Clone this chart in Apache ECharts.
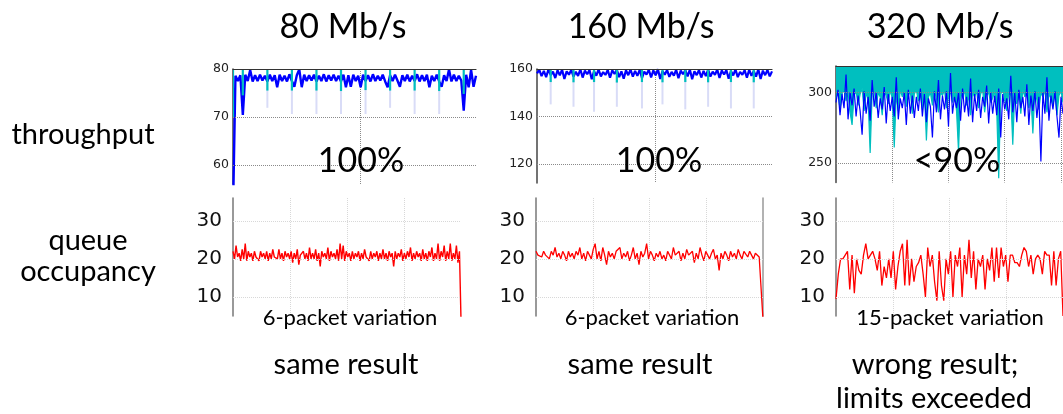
<!DOCTYPE html>
<html>
<head>
<meta charset="utf-8">
<script src="https://cdn.jsdelivr.net/npm/echarts@6/dist/echarts.min.js"></script>
<style>
  html, body { margin: 0; padding: 0; background: #fff; }
  #chart { width: 1063px; height: 414px; }
</style>
</head>
<body>
<div id="chart"></div>
<script>
// ---- labels ----
const rateTitles = ['80 Mb/s', '160 Mb/s', '320 Mb/s'];
const rowLabels = ['throughput', 'queue', 'occupancy'];
const utilization = ['100%', '100%', '<90%'];
const variation = ['6-packet variation', '6-packet variation', '15-packet variation'];
const verdicts = ['same result', 'same result', 'wrong result;', 'limits exceeded'];

// ---- tick labels ----
const thrTicks80 = [60, 70, 80];
const thrTicks160 = [120, 140, 160];
const thrTicks320 = [250, 300];
const queueTicks = [10, 20, 30];

// ---- throughput at 80 Mb/s (one sample per step) ----
const blue80 = [
  50, 78.6, 77.5, 78.7, 70.4, 78.8, 77.5, 79.8, 77.4, 78.7,
  77.5, 78.8, 77.6, 78.6, 77.4, 78.8, 77.5, 78.7, 76.2, 78.8,
  77.5, 78.6, 77.4, 78.9, 77.5, 76.3, 78.7, 79.9, 76.2, 78.8,
  77.5, 78.7, 77.6, 78.8, 77.4, 78.6, 77.5, 78.9, 77.4, 78.7,
  77.6, 78.8, 77.5, 78.6, 77.4, 78.8, 76.2, 78.7, 76.3, 78.8,
  77.5, 78.6, 76.2, 78.8, 77.5, 78.7, 77.4, 78.9, 77.5, 78.6,
  77.6, 78.8, 77.4, 76.2, 78.7, 77.5, 78.8, 77.6, 76.3, 78.7,
  77.5, 78.8, 77.4, 78.6, 77.5, 78.9, 77.4, 78.7, 77.5, 78.8,
  76.2, 78.6, 77.5, 78.8, 77.4, 76.3, 78.7, 77.5, 79.9, 77.4,
  78.8, 77.5, 78.6, 77.6, 71.3, 78.8, 76.2, 79.8, 76.3, 78.6
];
// [sample, lowest value] of the dips that hang from the top of the plot
const cyanDips80 = [
  [0, 70], [4, 74.5], [14, 75.5], [24, 75.5], [34, 75.5], [44, 75.4],
  [54, 75.6], [64, 75.5], [74, 75.5], [84, 75.4], [94, 74.8]
];
// [sample, lowest value] of the faint dips below the band
const lightDips80 = [
  [14, 71.9], [24, 70.6], [34, 70.6], [44, 70.6], [54, 70.6], [64, 71.9], [74, 70.6], [84, 70.6]
];
const band80 = 78;

// ---- throughput at 160 Mb/s ----
const blue160 = [
  158.2, 159.6, 157.0, 159.2, 156.6, 159.8, 157.4, 158.9, 156.2, 159.5,
  157.3, 159.7, 155.8, 159.0, 157.6, 159.6, 156.8, 158.8, 157.1, 159.9,
  156.4, 159.3, 157.8, 159.6, 155.7, 159.1, 157.2, 159.8, 156.9, 158.7,
  157.5, 159.6, 156.3, 159.4, 157.9, 159.7, 156.6, 159.0, 155.9, 159.5,
  157.4, 159.8, 156.8, 159.2, 157.1, 159.6, 156.2, 158.9, 157.7, 159.7,
  156.5, 159.4, 157.3, 159.9, 155.8, 159.1, 157.6, 159.6, 156.7, 158.8,
  157.2, 159.7, 156.1, 159.3, 157.8, 159.5, 156.9, 159.8, 155.7, 159.0,
  157.4, 159.6, 156.4, 159.2, 157.0, 159.7, 156.8, 158.9, 157.5, 159.8,
  156.2, 159.4, 157.7, 159.6, 155.9, 159.1, 157.3, 159.8, 156.6, 158.8,
  157.6, 159.5, 156.3, 159.7, 157.1, 159.2, 156.8, 159.9, 155.8, 159.3,
  157.4, 159.6, 156.9, 159.0
];
const cyanDips160 = [
  [6, 154.5], [16, 154.4], [25, 154.5], [35, 154.3], [46, 154.5],
  [55, 154.4], [65, 154.5], [75, 154.4], [85, 154.5], [95, 154.4]
];
const lightDips160 = [
  [6, 145.1], [16, 144.1], [25, 142.0], [35, 144.1], [46, 143.4],
  [55, 145.1], [65, 143.0], [75, 144.1], [85, 143.4], [95, 143.4]
];
const band160 = 158;

// ---- throughput at 320 Mb/s ----
// lower edge of the teal band (filled up to the top of the plot)
const cyan320 = [
  296, 301, 288, 299, 302, 294, 300, 286, 277, 298,
  301, 291, 299, 303, 287, 300, 295, 257, 299, 302,
  289, 300, 297, 284, 301, 298, 292, 302, 296, 261,
  299, 287, 302, 297, 300, 290, 298, 301, 285, 299,
  302, 294, 299, 288, 301, 266, 297, 300, 291, 302,
  296, 286, 300, 298, 302, 289, 297, 301, 293, 299,
  287, 258, 300, 296, 302, 291, 298, 284, 300, 297,
  301, 289, 299, 302, 286, 298, 300, 293, 296, 301,
  288, 239, 299, 302, 295, 287, 300, 298, 263, 301,
  292, 299, 285, 302, 297, 300, 289, 298, 271, 301,
  295, 288, 300, 297, 302, 286, 299, 296, 291, 300,
  284, 298, 301, 293
];
const blue320 = [
  293, 302, 284, 299, 289, 313, 281, 300, 291, 303,
  283, 298, 287, 270, 301, 285, 297, 280, 309, 290,
  300, 282, 296, 288, 304, 278, 299, 287, 297, 283,
  311, 281, 296, 289, 300, 277, 302, 285, 298, 282,
  297, 287, 303, 283, 299, 279, 296, 290, 268, 301,
  286, 309, 281, 298, 288, 301, 276, 314, 285, 297,
  289, 300, 280, 303, 286, 297, 283, 310, 279, 299,
  287, 302, 282, 297, 290, 305, 278, 300, 285, 298,
  284, 303, 268, 299, 288, 296, 281, 312, 286, 300,
  279, 302, 289, 297, 283, 306, 277, 298, 287, 301,
  282, 297, 251, 300, 285, 311, 280, 298, 288, 301,
  283, 268, 297, 285
];

// ---- queue occupancy (packets) ----
const queue80 = [
  22, 20, 23.5, 20.5, 21.5, 19.5, 22.5, 20, 24, 19.5, 22, 20.5, 21.5, 19.5, 22, 20.5, 21, 19.5, 22, 20.5,
  21.5, 20, 22, 19.5, 21.5, 20, 22.5, 20.5, 21, 20, 22.5, 20, 21.5, 19.5, 22, 20.5, 21.5, 20, 22, 19,
  21.5, 20, 22.5, 18.5, 21, 20.5, 22, 20, 21.5, 19.5, 23, 20, 21.5, 20, 22.5, 19.5, 21.5, 18, 22, 20.5,
  21.5, 20, 23, 19.5, 22, 20.5, 21.5, 20, 22.5, 19.5, 24, 20, 23.5, 19.5, 22, 20.5, 21.5, 19.5, 22, 20,
  21.5, 20.5, 22, 19.5, 21.5, 20, 22.5, 20.5, 21, 19.5, 22, 20, 21.5, 20.5, 22, 19.5, 21.5, 20, 22.5, 20,
  21.5, 19.5, 22, 20.5, 21.5, 18, 22, 20, 21.5, 20.5, 22.5, 19.5, 21.5, 20, 22, 20.5, 23, 19.5, 21.5, 20,
  22, 20.5, 21.5, 19.5, 22.5, 20, 21.5, 19.5, 22, 20.5, 23, 19.5, 21.5, 20, 24, 19.5, 22, 20.5, 23.5, 19.5,
  22, 20, 24, 19.5, 21.5, 20, 23.5, 19, 22, 4
];
const queue160 = [
  22, 21, 21.5, 20.5, 22, 21, 21.5, 20, 22, 21, 23, 20.5, 21.5, 20, 22, 21, 19.5, 22, 20.5, 21.5,
  20, 22, 21, 23, 20, 21.5, 19.5, 22, 21, 20, 22.5, 24, 20, 22, 19.5, 23, 21, 18.5, 22, 20.5,
  21.5, 20, 22, 21.5, 23, 20, 21.5, 20.5, 22, 19.5, 21, 23, 20, 21.5, 18.5, 22, 20.5, 21.5, 24, 20,
  22, 21, 19.5, 21.5, 20.5, 22, 20, 21, 19.5, 22, 21.5, 20, 23, 21, 20.5, 22, 19.5, 21.5, 20, 22.5,
  21, 20.5, 22, 19, 21.5, 20, 23, 21, 19.5, 22, 21, 20, 21.5, 22.5, 20, 21, 17, 21.5, 20, 22,
  21, 19.5, 22, 20.5, 21.5, 20, 22.5, 21, 20, 22, 21.5, 20.5, 22, 21, 20, 21.5, 22, 20.5, 21, 4
];
const queue320 = [
  9.5, 16, 20, 20, 21, 22, 12, 21, 11, 20,
  17, 16, 21, 24, 20, 21, 22, 20, 17, 22,
  13, 18, 15, 20, 15, 22, 12, 18, 22, 24,
  13, 25, 13, 20, 14, 18, 19, 21, 16, 10,
  23, 18, 21, 14, 9, 22, 13, 9, 20, 16,
  22, 10, 21, 18, 23, 10, 21, 16, 25, 15,
  22, 12, 20, 18, 21, 12, 20, 17, 23, 14,
  23, 15, 23, 18, 21, 14, 21, 21, 19, 19,
  18, 21, 23, 22, 18, 21, 16, 20, 21, 20,
  16, 22, 21, 21, 13, 22, 13, 20, 22, 5
];

// ---- styling ----
const BLUE = '#0000ff', CYAN = '#00bfbf', LIGHT = '#d9dcf7', RED = '#ff0000';
const TEXT_FONT = 'Lato, "Open Sans", sans-serif';
const TICK_FONT = '"DejaVu Sans", sans-serif';

const grids = [], xAxes = [], yAxes = [], series = [];
const pairs = arr => arr.map((v, i) => [i, v]);

// thin vertical strokes between a value and a reference level
function spikeSeries(xi, yi, dips, level, color, width, z) {
  return {
    type: 'custom', xAxisIndex: xi, yAxisIndex: yi, z: z, silent: true, clip: true,
    data: dips.map(d => [d[0], d[1], level]),
    renderItem: (params, api) => {
      const a = api.coord([api.value(0), api.value(1)]);
      const b = api.coord([api.value(0), api.value(2)]);
      return {
        type: 'rect',
        shape: { x: a[0] - width / 2, y: Math.min(a[1], b[1]), width: width, height: Math.abs(b[1] - a[1]) },
        style: { fill: color }
      };
    }
  };
}

function addPanel(p) {
  const gi = grids.length;
  grids.push({ left: p.left, top: p.top, width: p.width, height: p.height });
  const xi = xAxes.length;
  xAxes.push({
    type: 'value', gridIndex: gi, min: 0, max: p.n - 1, interval: p.xStep,
    axisLine: { show: false }, axisTick: { show: false }, axisLabel: { show: false },
    splitLine: { show: true, showMinLine: false, showMaxLine: false, lineStyle: p.vGrid }
  });
  if (p.topBorder) {
    xAxes.push({
      type: 'value', gridIndex: gi, position: 'top', min: 0, max: p.n - 1, z: 10,
      axisLine: { show: true, onZero: false, lineStyle: { color: '#333', width: 1.2 } },
      axisTick: { show: false }, axisLabel: { show: false }, splitLine: { show: false }
    });
  }
  const yi = yAxes.length;
  yAxes.push({
    type: 'value', gridIndex: gi, min: p.yMin, max: p.yMax, interval: p.yStep,
    axisLine: { show: true, onZero: false, lineStyle: { color: p.axisColor, width: 1.5 } },
    axisTick: { show: false },
    axisLabel: {
      margin: p.labelMargin, color: p.labelColor, fontFamily: TICK_FONT, fontSize: p.labelSize,
      formatter: v => (p.ticks.indexOf(v) >= 0 ? String(v) : '')
    },
    splitLine: { show: false }
  });
  if (p.rightBorder) {
    yAxes.push({
      type: 'value', gridIndex: gi, position: 'right', min: p.yMin, max: p.yMax,
      axisLine: { show: true, onZero: false, lineStyle: { color: '#999', width: 1.5 } },
      axisTick: { show: false }, axisLabel: { show: false }, splitLine: { show: false }
    });
  }
  // horizontal grid lines at the labelled ticks
  series.push({
    type: 'line', xAxisIndex: xi, yAxisIndex: yi, data: [], z: 1, silent: true,
    markLine: {
      silent: true, symbol: 'none', animation: false, label: { show: false },
      lineStyle: p.hGrid,
      data: p.ticks.filter(t => t > p.yMin && t < p.yMax).map(t => ({ yAxis: t }))
    }
  });
  if (p.lightDips) series.push(spikeSeries(xi, yi, p.lightDips, p.band, LIGHT, 2, 2));
  p.lines.forEach((ln, k) => {
    series.push({
      type: 'line', xAxisIndex: xi, yAxisIndex: yi, data: pairs(ln.data),
      showSymbol: false, symbol: 'none', clip: true, z: 3 + k, silent: true,
      lineStyle: { color: ln.color, width: ln.width },
      areaStyle: ln.fillTop ? { color: ln.color, opacity: 1, origin: 'end' } : undefined
    });
  });
  if (p.cyanDips) series.push(spikeSeries(xi, yi, p.cyanDips, p.yMax, CYAN, 2.2, 8));
}

const thrGridStyle = { type: 'dotted', color: '#8a8a8a', width: 1 };
const queueGridStyle = { type: 'dotted', color: '#d8d8d8', width: 1 };

// throughput row
addPanel({
  left: 233, top: 69, width: 243, height: 115, n: blue80.length, xStep: 52,
  yMin: 56, yMax: 80, yStep: 2, ticks: thrTicks80, topBorder: true,
  axisColor: '#444', labelColor: '#222', labelSize: 12.5, labelMargin: 4,
  vGrid: thrGridStyle, hGrid: thrGridStyle,
  lightDips: lightDips80, band: band80, cyanDips: cyanDips80,
  lines: [{ data: blue80, color: BLUE, width: 2.4 }]
});
addPanel({
  left: 537, top: 69, width: 235, height: 114, n: blue160.length, xStep: 52,
  yMin: 112, yMax: 160, yStep: 4, ticks: thrTicks160, topBorder: true,
  axisColor: '#444', labelColor: '#222', labelSize: 12.5, labelMargin: 4,
  vGrid: thrGridStyle, hGrid: thrGridStyle,
  lightDips: lightDips160, band: band160, cyanDips: cyanDips160,
  lines: [{ data: blue160, color: BLUE, width: 2.2 }]
});
addPanel({
  left: 836, top: 66, width: 227, height: 116.5, n: blue320.length, xStep: 28,
  yMin: 236, yMax: 319, yStep: 1, ticks: thrTicks320, topBorder: true,
  axisColor: '#444', labelColor: '#222', labelSize: 12.5, labelMargin: 4,
  vGrid: thrGridStyle, hGrid: thrGridStyle,
  lines: [
    { data: cyan320, color: CYAN, width: 1.2, fillTop: true },
    { data: blue320, color: BLUE, width: 1.2 }
  ]
});

// queue occupancy row
addPanel({
  left: 233, top: 198, width: 228, height: 118, n: queue80.length, xStep: (queue80.length - 1) / 4,
  yMin: 5, yMax: 36, yStep: 1, ticks: queueTicks,
  axisColor: '#777', labelColor: '#111', labelSize: 20, labelMargin: 11,
  vGrid: queueGridStyle, hGrid: queueGridStyle,
  lines: [{ data: queue80, color: RED, width: 1.4 }]
});
addPanel({
  left: 536, top: 198, width: 227, height: 118, n: queue160.length, xStep: (queue160.length - 1) / 4,
  yMin: 5, yMax: 36, yStep: 1, ticks: queueTicks, rightBorder: true,
  axisColor: '#777', labelColor: '#111', labelSize: 20, labelMargin: 11,
  vGrid: queueGridStyle, hGrid: queueGridStyle,
  lines: [{ data: queue160, color: RED, width: 1.3 }]
});
addPanel({
  left: 836, top: 198, width: 227, height: 118, n: queue320.length, xStep: (queue320.length - 1) / 4,
  yMin: 5, yMax: 36, yStep: 1, ticks: queueTicks,
  axisColor: '#777', labelColor: '#111', labelSize: 20, labelMargin: 11,
  vGrid: queueGridStyle, hGrid: queueGridStyle,
  lines: [{ data: queue320, color: RED, width: 1.3 }]
});

// ---- text annotations ----
function label(text, x, y, size) {
  return {
    type: 'text', x: x, y: y, z: 100, silent: true,
    style: {
      text: text, fill: '#000', fontFamily: TEXT_FONT, fontSize: size,
      textAlign: 'center', textVerticalAlign: 'middle', align: 'center', verticalAlign: 'middle'
    }
  };
}
const colCenters = [343, 641, 940];
const graphics = [];
rateTitles.forEach((t, i) => graphics.push(label(t, colCenters[i], 27, 34)));
graphics.push(label(rowLabels[0], 83, 135, 29));
graphics.push(label(rowLabels[1], 88, 241, 29));
graphics.push(label(rowLabels[2], 88, 272, 29));
const utilX = [361, 659, 957];
utilization.forEach((t, i) => graphics.push(label(t, utilX[i], 161, 34)));
const varX = [350, 652, 950];
variation.forEach((t, i) => graphics.push(label(t, varX[i], 318, 22)));
graphics.push(label(verdicts[0], 346, 365, 29));
graphics.push(label(verdicts[1], 640, 365, 29));
graphics.push(label(verdicts[2], 935, 365, 29));
graphics.push(label(verdicts[3], 934, 399, 29));

const chart = echarts.init(document.getElementById('chart'), null, { renderer: 'canvas' });
chart.setOption({
  animation: false,
  backgroundColor: '#fff',
  grid: grids,
  xAxis: xAxes,
  yAxis: yAxes,
  series: series,
  graphic: graphics
});
</script>
</body>
</html>
